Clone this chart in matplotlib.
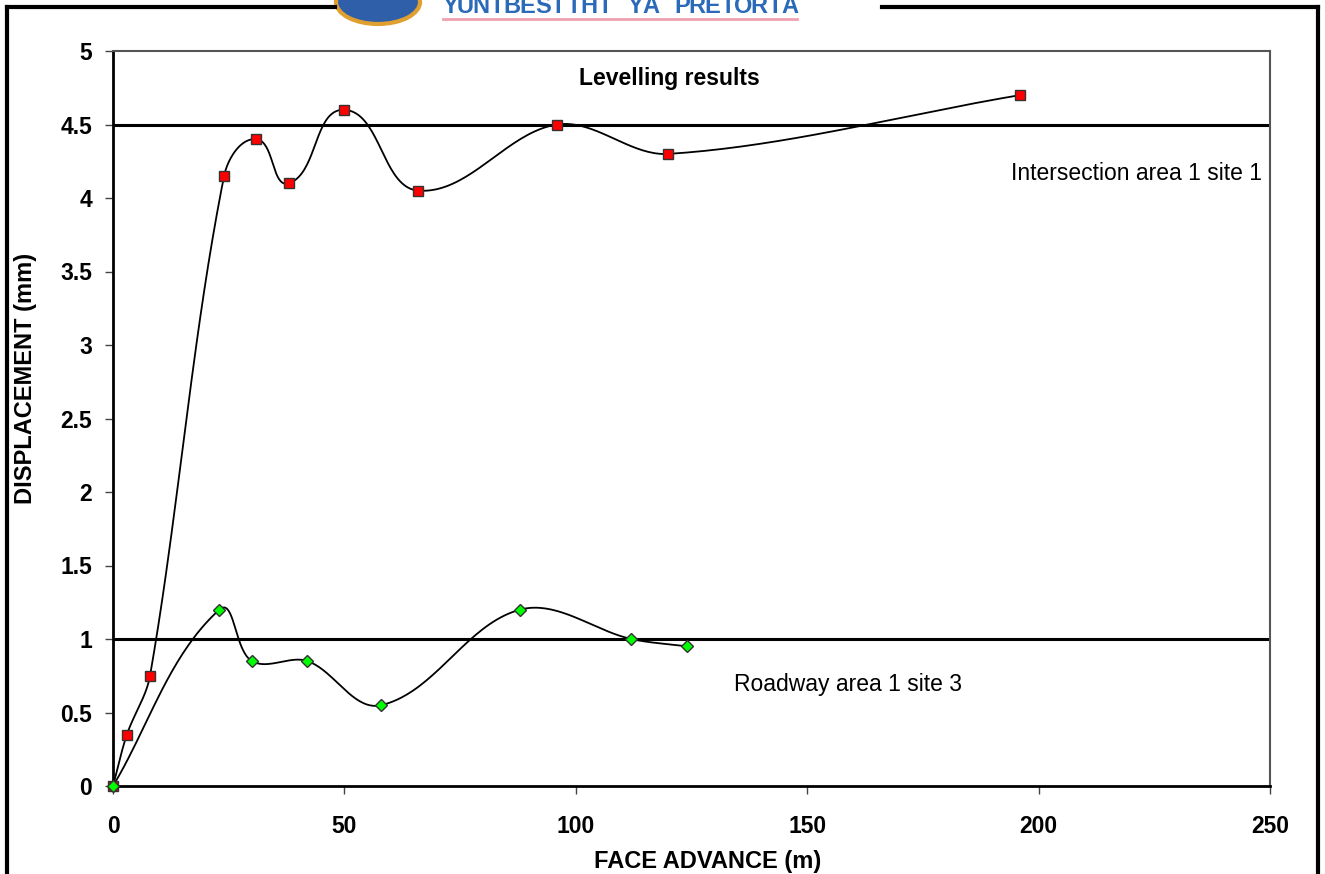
import numpy as np
import matplotlib
matplotlib.use("Agg")
import matplotlib.pyplot as plt
from matplotlib.lines import Line2D
from matplotlib.patches import Ellipse

# Levelling results
inter_x = [0, 3, 8, 24, 31, 38, 50, 66, 96, 120, 196]
inter_y = [0, 0.35, 0.75, 4.15, 4.4, 4.1, 4.6, 4.05, 4.5, 4.3, 4.7]
road_x = [0, 23, 30, 42, 58, 88, 112, 124]
road_y = [0, 1.2, 0.85, 0.85, 0.55, 1.2, 1.0, 0.95]
ref_lines = [4.5, 1.0]
x_ticks = [0, 50, 100, 150, 200, 250]
y_ticks = [0, 0.5, 1, 1.5, 2, 2.5, 3, 3.5, 4, 4.5, 5]
logo_text = 'YUNIBESITHI YA PRETORIA'

# pixel scale of the plot area, used so the smoothing works in screen space
SX, SY = 1157 / 250, 735 / 5


def smooth(xs, ys, n=40):
    # smoothed line like a spreadsheet chart: bezier segments, tangents scaled by chord length
    p = np.column_stack([np.array(xs) * SX, np.array(ys) * SY]).astype(float)
    pts = [p[0]]
    for i in range(len(p) - 1):
        p0 = p[i - 1] if i > 0 else p[i]
        p1, p2 = p[i], p[i + 1]
        p3 = p[i + 2] if i + 2 < len(p) else p[i + 1]
        seg_len = np.hypot(*(p2 - p1))
        d1 = p2 - p0
        d2 = p3 - p1
        n1 = np.hypot(*d1)
        n2 = np.hypot(*d2)
        c1 = p1 + (d1 / n1 * seg_len / 3 if n1 > 0 else 0)
        c2 = p2 - (d2 / n2 * seg_len / 3 if n2 > 0 else 0)
        t = np.linspace(0, 1, n)[1:, None]
        seg = ((1 - t) ** 3) * p1 + 3 * ((1 - t) ** 2) * t * c1 + 3 * (1 - t) * t ** 2 * c2 + t ** 3 * p2
        pts.extend(seg)
    pts = np.array(pts)
    return pts[:, 0] / SX, pts[:, 1] / SY


plt.rcParams['font.family'] = ['Liberation Sans', 'DejaVu Sans']

fig = plt.figure(figsize=(13.25, 8.74), dpi=100)
ax = fig.add_axes([113 / 1325, 88 / 874, 1157 / 1325, 735 / 874])

for yv in ref_lines:
    ax.axhline(yv, color='black', lw=2.2, zorder=1)

sx, sy = smooth(inter_x, inter_y)
ax.plot(sx, sy, color='black', lw=1.3, zorder=2)
ax.plot(inter_x, inter_y, ls='none', marker='s', ms=7, mfc='#ff0000', mec='#333333', mew=1, zorder=3, clip_on=False)

sx, sy = smooth(road_x, road_y)
ax.plot(sx, sy, color='black', lw=1.3, zorder=2)
ax.plot(road_x, road_y, ls='none', marker='D', ms=6, mfc='#00ff00', mec='#333333', mew=1, zorder=3, clip_on=False)

ax.set_xlim(0, 250)
ax.set_ylim(0, 5)
ax.set_xticks(x_ticks)
ax.set_yticks(y_ticks)
ax.set_xticklabels([str(v) for v in x_ticks])
ax.set_yticklabels(['%g' % v for v in y_ticks])
ax.tick_params(direction='out', length=6, width=1, color='#444444', labelsize=16.5)
ax.tick_params(axis='x', pad=15)
ax.tick_params(axis='y', pad=9)
for lab in ax.get_xticklabels() + ax.get_yticklabels():
    lab.set_fontweight('bold')

for s in ['left', 'bottom']:
    ax.spines[s].set_color('black')
    ax.spines[s].set_linewidth(2)
for s in ['top', 'right']:
    ax.spines[s].set_color('#555555')
    ax.spines[s].set_linewidth(1.5)

ax.set_xlabel('FACE ADVANCE (m)', fontsize=17, fontweight='bold')
ax.set_ylabel('DISPLACEMENT (mm)', fontsize=17, fontweight='bold')
ax.xaxis.set_label_coords(0.514, -0.087)
ax.yaxis.set_label_coords(-0.0657, 0.555)

ax.text(0.481, 0.963, 'Levelling results', transform=ax.transAxes, ha='center', va='center',
        fontsize=16.5, fontweight='bold')
ax.text(248.3, 4.17, 'Intersection area 1 site 1', ha='right', va='center', fontsize=16.5)
ax.text(158.8, 0.69, 'Roadway area 1 site 3', ha='center', va='center', fontsize=16.5)

# outer frame with gap for the logo
W, H = 1325, 874
frame_kw = dict(color='black', lw=3, transform=fig.transFigure)
fig.add_artist(Line2D([7 / W, 7 / W], [0, 1 - 7 / H], **frame_kw))
fig.add_artist(Line2D([1318 / W, 1318 / W], [0, 1 - 7 / H], **frame_kw))
fig.add_artist(Line2D([7 / W, 335 / W], [1 - 7 / H, 1 - 7 / H], **frame_kw))
fig.add_artist(Line2D([882 / W, 1318 / W], [1 - 7 / H, 1 - 7 / H], **frame_kw))

# logo remnant
crest = Ellipse((378 / W, 1 - 2 / H), 84 / W, 44 / H, transform=fig.transFigure,
                facecolor='#2f5fa8', edgecolor='#e0a030', lw=3)
fig.add_artist(crest)
for cx, ch in zip(np.linspace(450, 790, len(logo_text)), logo_text):
    fig.text(cx / W, 1 - 13 / H, ch, ha='center', va='baseline',
             fontsize=17, fontweight='bold', color='#2a6ab8')
fig.add_artist(Line2D([443 / W, 797 / W], [1 - 19 / H, 1 - 19 / H], color='#f0a0b0', lw=2,
                      transform=fig.transFigure))

fig.savefig('out.png', dpi=100)
